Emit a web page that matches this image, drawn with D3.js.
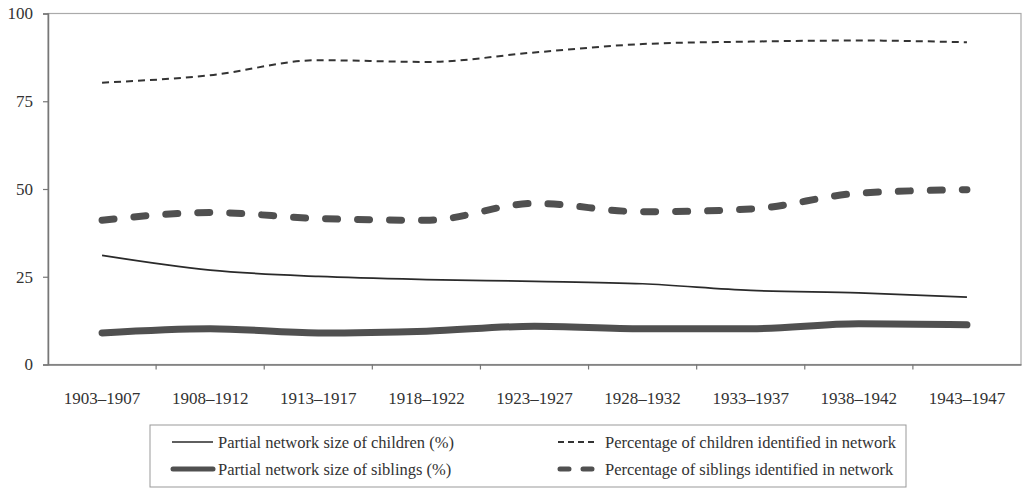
<!DOCTYPE html>
<html>
<head>
<meta charset="utf-8">
<script src="https://cdn.jsdelivr.net/npm/d3@7"></script>
<style>
  html, body { margin: 0; padding: 0; background: #fff; }
  svg { display: block; }
  svg text { font-family: "Liberation Serif", "Times New Roman", Times, serif; fill: #333; }
</style>
</head>
<body>
<svg id="chart" width="1026" height="489"></svg>
<script>
// cohorts on the x axis
var cohorts = ["1903–1907", "1908–1912", "1913–1917", "1918–1922", "1923–1927",
               "1928–1932", "1933–1937", "1938–1942", "1943–1947"];

// values (%)
var childrenSize       = [31.1, 26.9, 25.1, 24.2, 23.7, 23.0, 21.1, 20.4, 19.2];
var siblingsSize       = [9.0, 10.2, 9.0, 9.5, 10.9, 10.2, 10.2, 11.6, 11.3];
var childrenIdentified = [80.3, 82.4, 86.7, 86.2, 88.9, 91.3, 92.0, 92.3, 91.8];
var siblingsIdentified = [41.1, 43.3, 41.6, 41.1, 45.9, 43.5, 44.3, 48.8, 49.8];

var yTicks = [0, 25, 50, 75, 100];

var series = [
  { name: "Partial network size of children (%)", values: childrenSize,
    color: "#2a2a2a", width: 1.7, dash: null, cap: "butt" },
  { name: "Partial network size of siblings (%)", values: siblingsSize,
    color: "#505050", width: 7, dash: null, cap: "round" },
  { name: "Percentage of children identified in network", values: childrenIdentified,
    color: "#333", width: 2, dash: "7,5", cap: "butt" },
  { name: "Percentage of siblings identified in network", values: siblingsIdentified,
    color: "#505050", width: 7, dash: "12,20", cap: "round" }
];

var serif = '"Liberation Serif", "Times New Roman", Times, serif';

var svg = d3.select("#chart");

var plot = { left: 48, right: 1021, top: 13.5, bottom: 364.5 };

var x = d3.scaleBand().domain(cohorts).range([plot.left, plot.right]);
var y = d3.scaleLinear().domain([0, 100]).range([plot.bottom, plot.top]);

// plot frame (light top and right edges)
svg.append("rect")
  .attr("x", plot.left).attr("y", plot.top)
  .attr("width", plot.right - plot.left).attr("height", plot.bottom - plot.top)
  .attr("fill", "none").attr("stroke", "#aaa").attr("stroke-width", 1.2);

// y axis
var yAxis = svg.append("g")
  .attr("transform", "translate(" + plot.left + ",0)")
  .call(d3.axisLeft(y).tickValues(yTicks).tickSize(5).tickPadding(10));
yAxis.attr("font-family", serif);
yAxis.select(".domain").attr("stroke", "#777").attr("stroke-width", 1.5);
yAxis.selectAll(".tick line").attr("stroke", "#777").attr("stroke-width", 1.2);
yAxis.selectAll(".tick text")
  .attr("font-size", "17px").attr("fill", "#333");

// x axis: labels at band centres, tick marks between bands
var xAxis = svg.append("g")
  .attr("transform", "translate(0," + plot.bottom + ")")
  .call(d3.axisBottom(x).tickSize(0).tickPadding(27));
xAxis.attr("font-family", serif);
xAxis.select(".domain").attr("stroke", "#777").attr("stroke-width", 1.5);
xAxis.selectAll(".tick text")
  .attr("font-size", "17px").attr("fill", "#333");

svg.append("g").selectAll("line")
  .data(cohorts.slice(1))
  .join("line")
  .attr("x1", function (d) { return x(d); })
  .attr("x2", function (d) { return x(d); })
  .attr("y1", plot.bottom)
  .attr("y2", plot.bottom + 5)
  .attr("stroke", "#777").attr("stroke-width", 1.2);

// lines
var line = d3.line()
  .x(function (d, i) { return x(cohorts[i]) + x.bandwidth() / 2; })
  .y(function (d) { return y(d); })
  .curve(d3.curveMonotoneX);

svg.append("g").selectAll("path")
  .data(series)
  .join("path")
  .attr("d", function (s) { return line(s.values); })
  .attr("fill", "none")
  .attr("stroke", function (s) { return s.color; })
  .attr("stroke-width", function (s) { return s.width; })
  .attr("stroke-linecap", function (s) { return s.cap; })
  .attr("stroke-linejoin", "round")
  .attr("stroke-dasharray", function (s) { return s.dash; });

// legend
var legend = svg.append("g").attr("font-family", serif);
legend.append("rect")
  .attr("x", 150).attr("y", 425).attr("width", 756).attr("height", 62)
  .attr("fill", "none").attr("stroke", "#999").attr("stroke-width", 1);

var legendPos = [
  { x1: 172, x2: 213, tx: 218, ty: 442 },
  { x1: 173, x2: 213, tx: 218, ty: 469 },
  { x1: 558, x2: 594, tx: 605, ty: 442 },
  { x1: 560, x2: 592, tx: 605, ty: 469 }
];

series.forEach(function (s, i) {
  var p = legendPos[i];
  legend.append("line")
    .attr("x1", p.x1).attr("x2", p.x2).attr("y1", p.ty).attr("y2", p.ty)
    .attr("stroke", s.color)
    .attr("stroke-width", s.width === 7 ? 5 : s.width)
    .attr("stroke-linecap", s.cap)
    .attr("stroke-dasharray", s.dash ? (s.width === 7 ? "9,14" : "6,4") : null);
  legend.append("text")
    .attr("x", p.tx).attr("y", p.ty).attr("dy", "0.35em")
    .attr("font-size", "16.5px")
    .text(s.name);
});
</script>
</body>
</html>
